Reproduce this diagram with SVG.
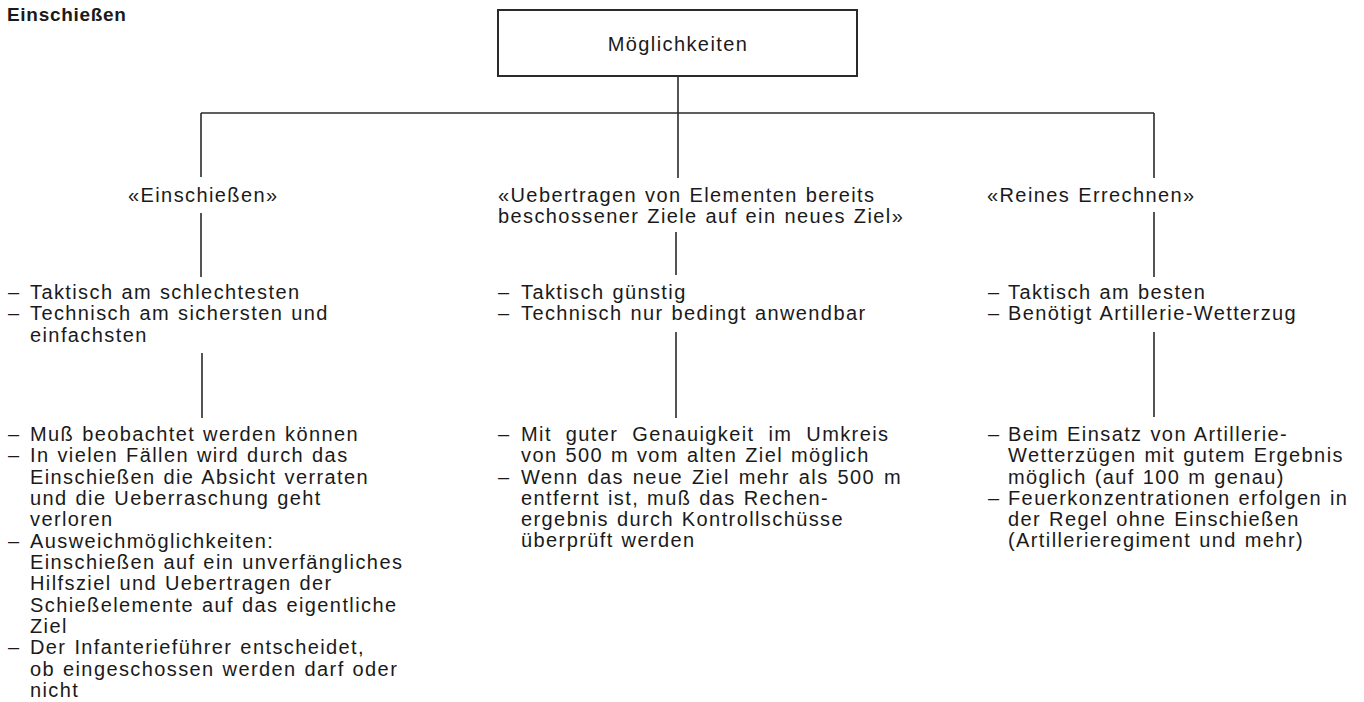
<svg xmlns="http://www.w3.org/2000/svg" width="1364" height="702" viewBox="0 0 1364 702">
<style>
  .t { font-family: "Liberation Sans", Arial, sans-serif; font-size: 20px; letter-spacing: 1.4px; word-spacing: 1px; fill: #1a1a1a; }
  .title { font-family: "Liberation Sans", Arial, sans-serif; font-size: 19px; font-weight: bold; letter-spacing: 0.7px; fill: #1a1a1a; }
  .ln { stroke: #2a2a2a; stroke-width: 1.6; fill: none; }
  .box { stroke: #2a2a2a; stroke-width: 2; fill: #ffffff; }
</style>
<rect width="1364" height="702" fill="#ffffff"/>

<g id="title">
  <text class="title" x="7" y="21">Einschießen</text>
</g>

<g id="connectors">
  <line class="ln" x1="678" y1="76" x2="678" y2="178"/>
  <line class="ln" x1="201" y1="113" x2="1154" y2="113"/>
  <line class="ln" x1="201" y1="113" x2="201" y2="177"/>
  <line class="ln" x1="1154" y1="113" x2="1154" y2="178"/>
  <line class="ln" x1="201" y1="213" x2="201" y2="277"/>
  <line class="ln" x1="676" y1="232" x2="676" y2="275"/>
  <line class="ln" x1="1154" y1="212" x2="1154" y2="277"/>
  <line class="ln" x1="202" y1="353" x2="202" y2="418"/>
  <line class="ln" x1="676" y1="332" x2="676" y2="418"/>
  <line class="ln" x1="1154" y1="332" x2="1154" y2="417"/>
</g>

<g id="node-moeglichkeiten">
  <rect class="box" x="498" y="10" width="359" height="66"/>
  <text class="t" x="678" y="51" text-anchor="middle">Möglichkeiten</text>
</g>

<g id="node-einschiessen">
  <text class="t" x="128" y="202">«Einschießen»</text>
</g>

<g id="node-uebertragen">
  <text class="t" x="498" y="202">«Uebertragen von Elementen bereits</text>
  <text class="t" x="498" y="223">beschossener Ziele auf ein neues Ziel»</text>
</g>

<g id="node-errechnen">
  <text class="t" x="987" y="202">«Reines Errechnen»</text>
</g>

<g id="node-einschiessen-eigenschaften">
  <text class="t"><tspan x="8" y="299">–</tspan><tspan x="30" y="299">Taktisch am schlechtesten</tspan></text>
  <text class="t"><tspan x="8" y="320">–</tspan><tspan x="30" y="320">Technisch am sichersten und</tspan></text>
  <text class="t" x="30" y="342">einfachsten</text>
</g>

<g id="node-einschiessen-details">
  <text class="t"><tspan x="8" y="441">–</tspan><tspan x="30" y="441">Muß beobachtet werden können</tspan></text>
  <text class="t"><tspan x="8" y="462">–</tspan><tspan x="30" y="462">In vielen Fällen wird durch das</tspan></text>
  <text class="t" x="30" y="484">Einschießen die Absicht verraten</text>
  <text class="t" x="30" y="505">und die Ueberraschung geht</text>
  <text class="t" x="30" y="526">verloren</text>
  <text class="t"><tspan x="8" y="548">–</tspan><tspan x="30" y="548">Ausweichmöglichkeiten:</tspan></text>
  <text class="t" x="30" y="569">Einschießen auf ein unverfängliches</text>
  <text class="t" x="30" y="590">Hilfsziel und Uebertragen der</text>
  <text class="t" x="30" y="612">Schießelemente auf das eigentliche</text>
  <text class="t" x="30" y="633">Ziel</text>
  <text class="t"><tspan x="8" y="654">–</tspan><tspan x="30" y="654">Der Infanterieführer entscheidet,</tspan></text>
  <text class="t" x="30" y="676">ob eingeschossen werden darf oder</text>
  <text class="t" x="30" y="697">nicht</text>
</g>

<g id="node-uebertragen-eigenschaften">
  <text class="t"><tspan x="498" y="299">–</tspan><tspan x="521" y="299">Taktisch günstig</tspan></text>
  <text class="t"><tspan x="498" y="320">–</tspan><tspan x="521" y="320">Technisch nur bedingt anwendbar</tspan></text>
</g>

<g id="node-uebertragen-details">
  <text class="t"><tspan x="498" y="441">–</tspan><tspan x="521" y="441" word-spacing="7">Mit guter Genauigkeit im Umkreis</tspan></text>
  <text class="t" x="521" y="462">von 500 m vom alten Ziel möglich</text>
  <text class="t"><tspan x="498" y="484">–</tspan><tspan x="521" y="484" word-spacing="2">Wenn das neue Ziel mehr als 500 m</tspan></text>
  <text class="t" x="521" y="505">entfernt ist, muß das Rechen-</text>
  <text class="t" x="521" y="526">ergebnis durch Kontrollschüsse</text>
  <text class="t" x="521" y="547">überprüft werden</text>
</g>

<g id="node-errechnen-eigenschaften">
  <text class="t"><tspan x="988" y="299">–</tspan><tspan x="1008" y="299">Taktisch am besten</tspan></text>
  <text class="t"><tspan x="988" y="320">–</tspan><tspan x="1008" y="320">Benötigt Artillerie-Wetterzug</tspan></text>
</g>

<g id="node-errechnen-details">
  <text class="t"><tspan x="988" y="441">–</tspan><tspan x="1008" y="441">Beim Einsatz von Artillerie-</tspan></text>
  <text class="t" x="1008" y="462">Wetterzügen mit gutem Ergebnis</text>
  <text class="t" x="1008" y="484">möglich (auf 100 m genau)</text>
  <text class="t"><tspan x="988" y="505">–</tspan><tspan x="1008" y="505">Feuerkonzentrationen erfolgen in</tspan></text>
  <text class="t" x="1008" y="526">der Regel ohne Einschießen</text>
  <text class="t" x="1008" y="547">(Artillerieregiment und mehr)</text>
</g>
</svg>
